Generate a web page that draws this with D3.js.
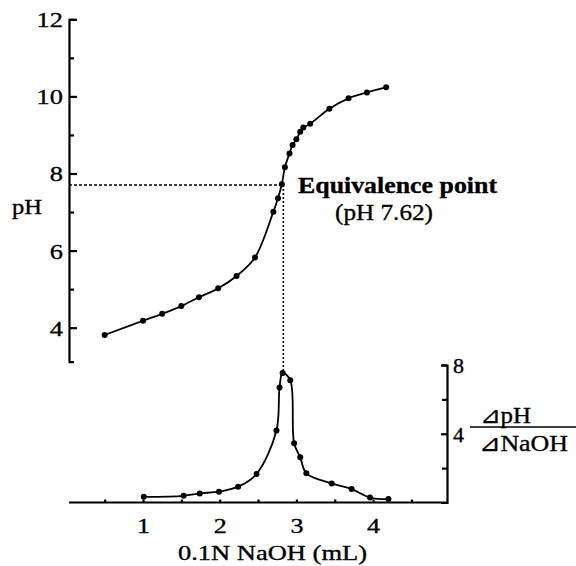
<!DOCTYPE html>
<html>
<head>
<meta charset="utf-8">
<script src="https://cdn.jsdelivr.net/npm/d3@7"></script>
<style>
  body { margin: 0; background: #fff; }
  svg text { stroke: #000; stroke-width: 0.35px; }
</style>
</head>
<body>
<svg id="chart" width="576" height="566"></svg>
<script>
// titration curve (pH vs mL NaOH)
var titrX  = [0.50, 1.00, 1.25, 1.50, 1.73, 1.98, 2.22, 2.46, 2.70, 2.76, 2.81, 2.85, 2.91, 2.95, 3.00, 3.05, 3.09, 3.18, 3.43, 3.68, 3.92, 4.17];
var titrPH = [3.81, 4.18, 4.36, 4.56, 4.79, 5.02, 5.34, 5.82, 7.01, 7.36, 7.72, 8.16, 8.52, 8.74, 8.89, 9.08, 9.19, 9.29, 9.68, 9.95, 10.10, 10.24];

// first derivative dpH/dNaOH
var derivX = [1.01, 1.53, 1.74, 1.99, 2.24, 2.48, 2.74, 2.78, 2.82, 2.92, 2.97, 3.05, 3.13, 3.46, 3.72, 3.96, 4.20];
var derivY = [0.33, 0.39, 0.53, 0.63, 0.92, 1.66, 4.19, 6.69, 7.54, 7.12, 3.45, 2.63, 1.70, 1.11, 0.78, 0.29, 0.20];

var eqX = 2.83, eqPH = 7.70, eqPeak = 7.54;

var xTicks = [1, 2, 3, 4];
var xMinor = [0.5, 1.5, 2.5, 3.5, 4.5];
var phTicks = [4, 6, 8, 10, 12];
var phMinor = [5, 7, 9, 11];
var dTicks = [4, 8];
var dMinor = [2, 6];

var serif = '"Liberation Serif", "Times New Roman", serif';
var svg = d3.select("#chart");

var x = d3.scaleLinear().domain([0, 5]).range([66.3, 449.8]);
var yPH = d3.scaleLinear().domain([3.12, 12]).range([361.6, 19.3]);
var yD = d3.scaleLinear().domain([0, 8]).range([502.5, 365]);

var axisX = 69, axisR = 447, baseY = 502.5;

// the scanned figure is wider than tall, so widen text a bit
function stretch(sel, k) {
  sel.each(function() {
    var w = this.getComputedTextLength();
    d3.select(this).attr("textLength", w * k).attr("lengthAdjust", "spacingAndGlyphs");
  });
}

// pH axis (left, ticks pointing right)
var gPH = svg.append("g").attr("transform", "translate(" + axisX + ",0)")
  .call(d3.axisLeft(yPH).tickValues(phTicks).tickFormat(d3.format("d"))
    .tickSizeInner(-8).tickSizeOuter(-5).tickPadding(6));
gPH.selectAll("text").attr("font-family", serif).style("font-size", "22px").attr("dy", "0.34em");
svg.append("g").attr("transform", "translate(" + axisX + ",0)")
  .call(d3.axisLeft(yPH).tickValues(phMinor).tickSizeInner(-5).tickFormat(""))
  .call(function(g) { g.select(".domain").remove(); });

// x axis (bottom, ticks pointing up)
var gX = svg.append("g").attr("transform", "translate(0," + baseY + ")")
  .call(d3.axisBottom(x).tickValues(xTicks).tickFormat(d3.format("d"))
    .tickSizeInner(-3).tickSizeOuter(0).tickPadding(16));
gX.select(".domain").attr("d", "M" + axisX + ",0H" + axisR);
gX.selectAll("text").attr("font-family", serif).style("font-size", "20px");
svg.append("g").attr("transform", "translate(0," + baseY + ")")
  .call(d3.axisBottom(x).tickValues(xMinor).tickSizeInner(-3).tickFormat(""))
  .call(function(g) { g.select(".domain").remove(); });

// derivative axis (right, ticks pointing left)
var gD = svg.append("g").attr("transform", "translate(" + axisR + ",0)")
  .call(d3.axisRight(yD).tickValues(dTicks).tickSizeInner(-6).tickSizeOuter(-6).tickPadding(6));
gD.selectAll("text").attr("font-family", serif).style("font-size", "22px").attr("dy", "0.34em");
svg.append("g").attr("transform", "translate(" + axisR + ",0)")
  .call(d3.axisRight(yD).tickValues(dMinor).tickSizeInner(-5).tickFormat(""))
  .call(function(g) { g.select(".domain").remove(); });

svg.selectAll(".domain, .tick line").attr("stroke", "#000").attr("stroke-width", 2.2);
stretch(gPH.selectAll("text"), 1.2);
stretch(gX.selectAll("text"), 1.3);

// guide lines to equivalence point
svg.append("line")
  .attr("x1", axisX).attr("x2", x(eqX)).attr("y1", yPH(eqPH)).attr("y2", yPH(eqPH))
  .attr("stroke", "#000").attr("stroke-width", 1.4).attr("stroke-dasharray", "3,2");
svg.append("line")
  .attr("x1", x(eqX)).attr("x2", x(eqX)).attr("y1", yPH(eqPH)).attr("y2", yD(eqPeak))
  .attr("stroke", "#000").attr("stroke-width", 1.6).attr("stroke-dasharray", "2,2");

// curves
var titr = titrX.map(function(d, i) { return [d, titrPH[i]]; });
var deriv = derivX.map(function(d, i) { return [d, derivY[i]]; });

var lineT = d3.line().x(function(d) { return x(d[0]); }).y(function(d) { return yPH(d[1]); })
  .curve(d3.curveCatmullRom.alpha(0.5));
var lineD = d3.line().x(function(d) { return x(d[0]); }).y(function(d) { return yD(d[1]); })
  .curve(d3.curveCatmullRom.alpha(0.5));

svg.append("path").datum(titr).attr("d", lineT)
  .attr("fill", "none").attr("stroke", "#000").attr("stroke-width", 1.8);
svg.append("path").datum(deriv).attr("d", lineD)
  .attr("fill", "none").attr("stroke", "#000").attr("stroke-width", 1.8);

svg.selectAll(".ptT").data(titr).enter().append("circle")
  .attr("cx", function(d) { return x(d[0]); }).attr("cy", function(d) { return yPH(d[1]); })
  .attr("r", 3).attr("fill", "#000");
svg.selectAll(".ptD").data(deriv).enter().append("circle")
  .attr("cx", function(d) { return x(d[0]); }).attr("cy", function(d) { return yD(d[1]); })
  .attr("r", 3).attr("fill", "#000");

// labels
function label(px, py, size, txt, len, bold) {
  return svg.append("text").attr("x", px).attr("y", py)
    .attr("font-family", serif).style("font-size", size + "px")
    .style("font-weight", bold ? "bold" : "normal")
    .attr("textLength", len).attr("lengthAdjust", "spacingAndGlyphs")
    .text(txt);
}
label(12, 214, 22, "pH", 30);
label(178, 560, 21, "0.1N NaOH (mL)", 189);
label(298, 193, 24, "Equivalence point", 199, true);
label(335, 220, 23, "(pH 7.62)", 98);

label(480, 423, 23, "\u22BFpH", 51);
svg.append("line").attr("x1", 470).attr("x2", 576).attr("y1", 427).attr("y2", 427)
  .attr("stroke", "#000").attr("stroke-width", 1.5);
label(479, 451, 23, "\u22BFNaOH", 89);
</script>
</body>
</html>
